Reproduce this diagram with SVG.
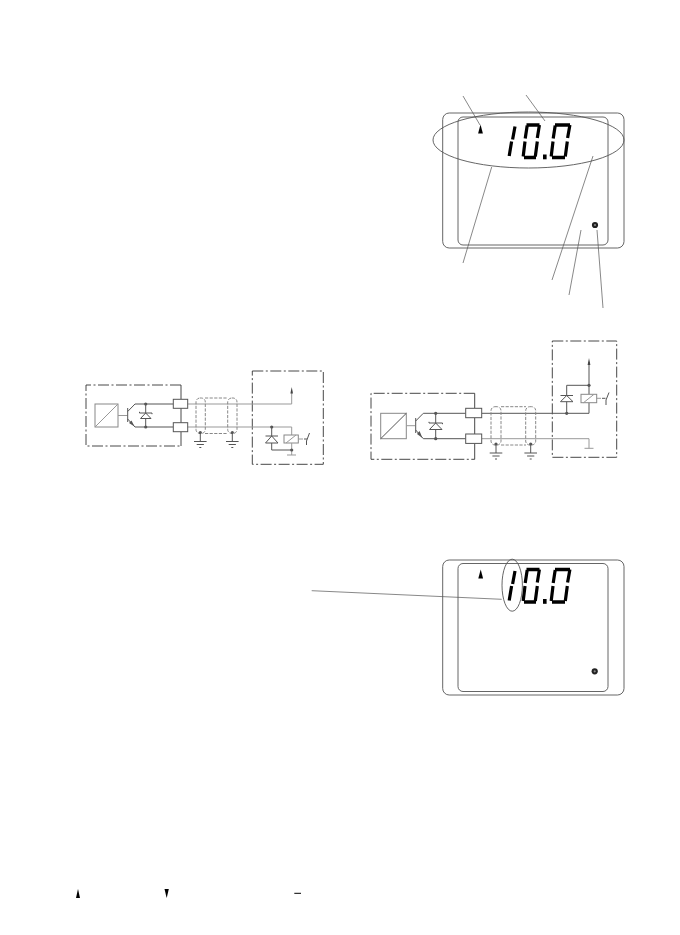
<svg xmlns="http://www.w3.org/2000/svg" xmlns:xlink="http://www.w3.org/1999/xlink" width="680" height="935" viewBox="0 0 680 935">
<style>
.bg{fill:#fff}
.o{fill:none;stroke:#555;stroke-width:.9}
.t{fill:none;stroke:#555;stroke-width:.7}
.dd{fill:none;stroke:#333;stroke-width:.9;stroke-dasharray:11 2.5 2 2.5}
.k{fill:none;stroke:#555;stroke-width:1}
.g{fill:none;stroke:#999;stroke-width:1}
.s{fill:none;stroke:#888;stroke-width:1;stroke-dasharray:3.2 1.4}
.c{fill:#fff;stroke:#555;stroke-width:1}
.r{fill:#fff;stroke:#888;stroke-width:1}
.d{fill:#555}
.e{fill:none;stroke:#333;stroke-width:.9}
.seg{fill:none;stroke:#000;stroke-width:3.2}
.bar{fill:none;stroke:#000;stroke-width:3.6}
</style>
<defs>
<g id="digits">
<path class="seg" d="M515 571L512.6 584M511.6 586L509.2 600.5"/>
<path class="bar" d="M526.5 569.5H539.5M524 602H536"/>
<path class="seg" d="M527.2 570L525.2 583M525 586L523.2 601M539.4 569.5L537.3 582.5M537.3 586L535.3 601"/>
<path class="bar" d="M555 569.5H570M552 602H565"/>
<path class="seg" d="M555.2 570L553.2 583M553 586L551.2 601M569.9 569.5L567.6 582.5M567.3 586L565.3 601"/>
<rect x="543" y="599" width="3.6" height="4.8" fill="#000"/>
</g>
<path id="up" d="M0 -4.5L2.4 4.5H-2.4Z" fill="#000"/>
<g id="led"><circle r="3.1" fill="#222"/><circle r="1.1" fill="#888"/></g>
<g id="ground">
<path class="k" d="M0 0V9M-6.3 9H6.3M-3.6 12H3.6M-1 15H1"/>
<circle class="d" r="1.6"/>
</g>
</defs>
<rect class="bg" width="680" height="935"/>

<g id="display-top">
<rect class="o" x="442.7" y="113" width="181.3" height="135" rx="6.5"/>
<rect class="o" x="458" y="117" width="150" height="128" rx="5"/>
<use xlink:href="#digits" href="#digits" y="-444.5"/>
<use xlink:href="#up" href="#up" x="480.5" y="129"/>
<use xlink:href="#led" href="#led" x="595" y="225"/>
<ellipse class="o" cx="528.5" cy="140" rx="95.5" ry="28"/>
</g>

<g id="display-bottom">
<rect class="o" x="442.7" y="560" width="181.3" height="135" rx="6.5"/>
<rect class="o" x="458" y="563.5" width="150" height="128" rx="5"/>
<use xlink:href="#digits" href="#digits"/>
<use xlink:href="#up" href="#up" x="480.7" y="574"/>
<use xlink:href="#led" href="#led" x="594.7" y="671.3"/>
<ellipse class="o" cx="512.2" cy="585.2" rx="10.2" ry="26"/>
</g>

<g id="connectors">
<path class="t" d="M463 96L480 125M526 95L545 121M491.7 167L463 263M593 156L552 280M581 230L569 295M597 230L603 308M311.7 590.7L501.7 599.3"/>
</g>

<g id="circuit-left">
<path class="dd" d="M181 385H86V446H181"/>
<path class="e" d="M181 385V399M181 408V423M181 432V446"/>
<rect class="dd" x="252.3" y="371" width="71" height="93.3"/>
<rect class="r" x="95" y="404" width="23" height="23"/>
<path class="g" d="M95 427L118 404M118 415.5H127.5"/>
<path class="k" d="M127.7 408V422M127.7 411.5L135 404H173M127.7 419L135 427H173"/>
<path class="d" d="M134.5 426.5L129 423L131.5 420.5Z"/>
<path class="k" d="M145.7 404V413M145.7 418.5V427"/>
<path class="k" d="M139.5 413H152M139.5 411.8V413M152 413V414.2M140.5 418.5H151L145.7 413Z"/>
<circle class="d" cx="145.7" cy="404" r="1.6"/><circle class="d" cx="145.7" cy="427" r="1.6"/>
<path class="g" d="M187 404H291.7V391M187 427H291.7V435"/>
<path d="M291.7 387L293 393.5H290.4Z" fill="#444"/>
<rect class="c" x="173.3" y="399.3" width="14.4" height="9"/>
<rect class="c" x="173.3" y="422.7" width="14.4" height="9"/>
<rect class="s" x="196" y="398" width="9.3" height="35.5" rx="4"/>
<rect class="s" x="227.7" y="398" width="9.3" height="35.5" rx="4"/>
<path class="s" d="M205 398H228M205 433.5H228"/>
<use xlink:href="#ground" href="#ground" x="200.3" y="432.5"/>
<use xlink:href="#ground" href="#ground" x="232.3" y="432.5"/>
<path class="k" d="M271.7 427V436M271.7 443V450H291.7"/>
<path class="k" d="M265.5 436H278M265.5 443H278L271.7 436Z"/>
<circle class="d" cx="271.7" cy="427" r="1.6"/>
<rect class="r" x="284" y="435" width="14.3" height="8"/>
<path class="g" d="M286 443L296 435M291.7 443V455M287 455H296"/>
<circle class="d" cx="291.7" cy="450" r="1.6"/>
<path class="g" d="M298.3 439H303"/>
<path class="k" d="M304 439H307M309.5 433L306.5 441V445"/>
</g>

<g id="circuit-right">
<path class="dd" d="M474.7 393.3H371V459.3H474.7"/>
<path class="e" d="M474.7 393.3V408M474.7 417.7V434M474.7 443.4V459.3"/>
<rect class="dd" x="552.3" y="341" width="64.4" height="116.3"/>
<rect class="r" x="380.7" y="413.3" width="25.6" height="25.4"/>
<path class="k" d="M380.7 438.7L406.3 413.3"/>
<path class="g" d="M406.3 425.7H415"/>
<path class="k" d="M415.7 418V433M415.7 421L423.3 413.3H465.7M415.7 430L423.3 438.7H465.7"/>
<path class="d" d="M422.5 438L417 434L419.5 431Z"/>
<path class="k" d="M435.7 413.3V423M435.7 429.5V438.7"/>
<path class="k" d="M429 423H442.5M429 421.8V423M442.5 423V424.2M429.5 429.5H442L435.7 423Z"/>
<circle class="d" cx="435.7" cy="413.3" r="1.6"/><circle class="d" cx="435.7" cy="438.7" r="1.6"/>
<path class="k" d="M481.7 413.3H589V402.7M589 394.3V362"/>
<path class="g" d="M481.7 438.7H589V448.3M584.5 448.3H593.5"/>
<path d="M589 358L590.4 365H587.6Z" fill="#444"/>
<rect class="c" x="465.7" y="408.3" width="16" height="9.4"/>
<rect class="c" x="465.7" y="434" width="16" height="9.4"/>
<rect class="s" x="491" y="406.7" width="10" height="38.3" rx="4"/>
<rect class="s" x="525.7" y="406.7" width="10" height="38.3" rx="4"/>
<path class="s" d="M501 406.7H526M501 445H526"/>
<use xlink:href="#ground" href="#ground" x="496" y="444"/>
<use xlink:href="#ground" href="#ground" x="530.7" y="444"/>
<path class="k" d="M566.7 413.3V401.7M566.7 395.5V385.3H589"/>
<path class="k" d="M560.5 395.5H573M560.5 401.7H573L566.7 395.5Z"/>
<circle class="d" cx="566.7" cy="413.3" r="1.6"/><circle class="d" cx="589" cy="385.3" r="1.6"/>
<rect class="r" x="581" y="394.3" width="15.7" height="8.4"/>
<path class="g" d="M583.5 402.7L594 394.3M596.7 398.3H601"/>
<path class="k" d="M602 398.3H605.5M609 392.5L606 400V405"/>
</g>

<g id="legend">
<path d="M78 889L80 898H76Z" fill="#000"/>
<path d="M164.5 889H168.8L166.7 898Z" fill="#000"/>
<path d="M294.3 893.3H301" stroke="#000" stroke-width="1" fill="none"/>
</g>
</svg>
